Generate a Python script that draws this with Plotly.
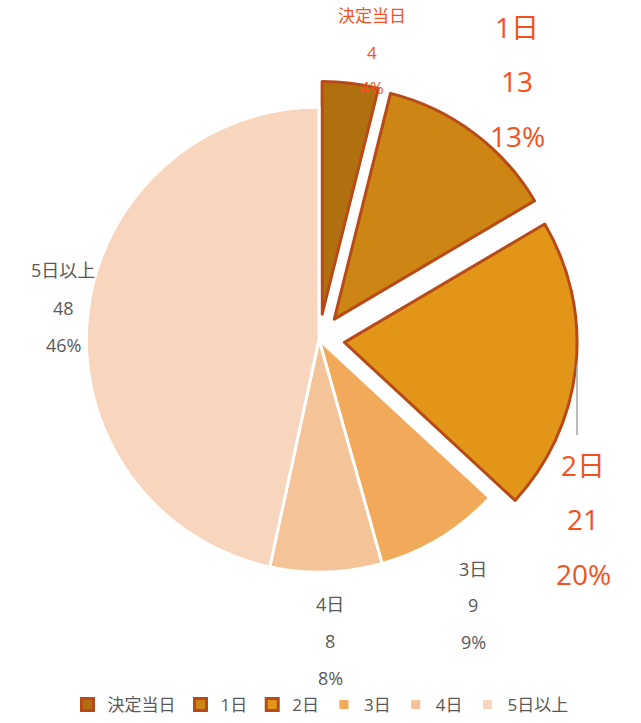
import plotly.graph_objects as go

categories = ["決定当日", "1日", "2日", "3日", "4日", "5日以上"]
values = [4, 13, 21, 9, 8, 48]
pct_labels = ["4%", "13%", "20%", "9%", "8%", "46%"]

colors = ["#B07010", "#CD8513", "#E29618", "#F0AA5A", "#F5C398", "#F8D5BD"]
line_colors = ["#B84A18", "#B84A18", "#B84A18", "#FFFFFF", "#FFFFFF", "#FFFFFF"]
line_widths = [3, 3, 3, 3, 3, 3]
pulls = [0.11, 0.11, 0.11, 0, 0, 0]

# label layout (pixel centres of the three text lines, font size, colour)
W, H = 641, 723
label_x = [372, 517, 583, 473, 330, 63]
label_y = [[16, 53, 88], [27, 82, 137], [468, 523, 578],
           [573, 609, 646], [608, 645, 683], [272, 310, 347]]
label_size = [17, 28, 28, 18, 18, 18]
label_color = ["#F4511E", "#F4511E", "#F4511E", "#595959", "#595959", "#595959"]

FONT = "Open Sans, Noto Sans CJK JP, sans-serif"

fig = go.Figure(go.Pie(
    labels=categories,
    values=values,
    sort=False,
    direction="clockwise",
    rotation=0,
    pull=pulls,
    textinfo="none",
    hoverinfo="label+value+percent",
    marker=dict(colors=colors, line=dict(color=line_colors, width=line_widths)),
    domain=dict(x=[59 / W, 579 / W], y=[1 - 602 / H, 1 - 82 / H]),
))

annotations = []
for i, cat in enumerate(categories):
    lines = [cat, str(values[i]), pct_labels[i]]
    for j, t in enumerate(lines):
        annotations.append(dict(
            x=label_x[i] / W, y=1 - label_y[i][j] / H, xref="paper", yref="paper",
            text=t, showarrow=False, xanchor="center", yanchor="middle",
            font=dict(family=FONT, size=label_size[i], color=label_color[i]),
        ))

fig.update_layout(
    width=W, height=H,
    margin=dict(l=0, r=0, t=0, b=0),
    paper_bgcolor="white", plot_bgcolor="white",
    font=dict(family=FONT, color="#595959"),
    annotations=annotations,
    shapes=[dict(type="line", xref="paper", yref="paper",
                 x0=577 / W, x1=577 / W, y0=1 - 368 / H, y1=1 - 438 / H,
                 line=dict(color="#A6A6A6", width=1.5))],
    legend=dict(orientation="h", x=0.5, xanchor="center", y=1 - 710 / H, yanchor="middle",
                font=dict(size=17, color="#595959", family=FONT),
                itemwidth=30, tracegroupgap=0),
)

fig.write_html("out.html", config={"displayModeBar": False},
               post_script="document.body.style.margin='0';document.body.style.overflow='hidden';")
